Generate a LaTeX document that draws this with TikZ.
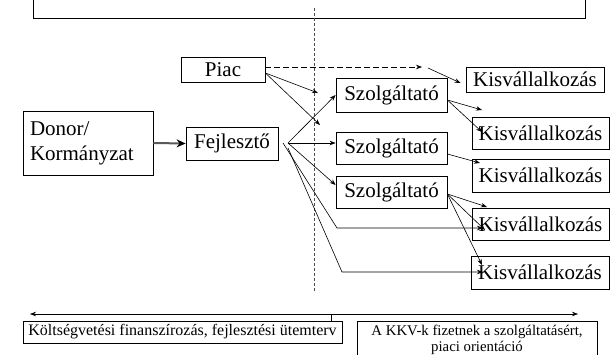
\documentclass[tikz,border=0pt]{standalone}
\usepackage{fontspec}
\setmainfont{Liberation Serif}
\usetikzlibrary{arrows.meta}

\begin{document}
\begin{tikzpicture}[x=1pt, y=-1pt,
    box/.style={draw, line width=0.8pt, inner sep=0pt, font=\fontsize{21}{25}\selectfont},
    arr/.style={-{Stealth[length=6pt,width=4.5pt]}, line width=0.6pt}]
\useasboundingbox (0,0) rectangle (612,354);
\node[box, minimum width=552pt, minimum height=30pt] (top) at (309,3) {};
\draw[dash pattern=on 3pt off 2pt, black!70, line width=0.7pt] (314,8) coordinate (v1) -- (314,292) coordinate (v2);

\node[box, minimum width=84pt, minimum height=25pt] (piac) at (223,69.5) {Piac};
\node[box, minimum width=130pt, minimum height=64pt, text width=116pt, align=left] (donor) at (88,143) {Donor/\\Kormányzat};
\node[box, minimum width=92pt, minimum height=33pt] (fejleszto) at (232,143.5) {Fejlesztő};
\node[box, minimum width=111pt, minimum height=34pt] (szolg1) at (391.5,95) {Szolgáltató};
\node[box, minimum width=111pt, minimum height=32pt] (szolg2) at (391.5,148) {Szolgáltató};
\node[box, minimum width=111pt, minimum height=32pt] (szolg3) at (391.5,192) {Szolgáltató};
\node[box, minimum width=138pt, minimum height=25pt] (kisv1) at (535,79.5) {Kisvállalkozás};
\node[box, minimum width=137pt, minimum height=32pt] (kisv2) at (540.5,133) {Kisvállalkozás};
\node[box, minimum width=137pt, minimum height=33pt] (kisv3) at (540.5,175.5) {Kisvállalkozás};
\node[box, minimum width=137pt, minimum height=32pt] (kisv4) at (540.5,224) {Kisvállalkozás};
\node[box, minimum width=138pt, minimum height=33pt] (kisv5) at (540,272.5) {Kisvállalkozás};
\node[box, minimum width=319pt, minimum height=22pt, font=\fontsize{16}{19}\selectfont] (budget) at (182.5,332) {Költségvetési finanszírozás, fejlesztési ütemterv};
\node[box, minimum width=240pt, minimum height=41pt, align=center, font=\fontsize{14.8}{16}\selectfont] (market) at (477,341.5) {};
\node[font=\fontsize{14.8}{16}\selectfont, align=center, inner sep=0pt] (markettext) at (477,339.5) {A KKV-k fizetnek a szolgáltatásért,\\piaci orientáció};

% piac
\coordinate (d1) at (422,67);
\coordinate (k0) at (428,68);
\coordinate (p1) at (318,93);
\coordinate (p2) at (320,125);
\draw[arr, dash pattern=on 6pt off 3pt] ([yshift=2.5pt]piac.east) -- (d1);
\draw[arr] (k0) -- ([xshift=-5pt,yshift=-3.5pt]kisv1.west);
\draw[arr] ([yshift=-3.5pt]piac.east) -- (p1);
\draw[arr] ([yshift=-3.5pt]piac.east) -- (p2);

% donor -> fejleszto
\draw[line width=2pt, black!65, -{Stealth[length=9pt,width=8pt,black]}] (donor.east) -- (fejleszto.west);

% fejleszto
\coordinate (fan) at (288,143);
\coordinate (fan2) at (283,143);
\coordinate (fan3) at (288,148);
\coordinate (bend4) at (337,228);
\coordinate (bend5) at (342,272);
\coordinate (e4) at (483,228);
\coordinate (e5) at (483,272);
\draw[arr] (fan) -- (szolg1.west);
\draw[arr] (fan) -- (fan -| szolg2.west);
\draw[arr] (fan) -- ([yshift=7pt]szolg3.west);
\draw[arr] (fan2) -- (bend4) -- (e4);
\draw[arr] (fan3) -- (bend5) -- (e5);

% szolgaltatok
\coordinate (s1a) at (482,110);
\coordinate (s1b) at (482,132);
\coordinate (s2a) at (480,163);
\coordinate (s3a) at (487,207);
\coordinate (s3b) at (485,230);
\coordinate (s3c) at (482,265);
\draw[arr] ([yshift=-5pt]szolg1.east) -- (s1a);
\draw[arr] ([yshift=-5pt]szolg1.east) -- (s1b);
\draw[arr] ([yshift=-6pt]szolg2.east) -- (s2a);
\draw[arr] ([yshift=-2pt]szolg3.east) -- (s3a);
\draw[arr] ([yshift=-2pt]szolg3.east) -- (s3b);
\draw[arr] ([yshift=-2pt]szolg3.east) -- (s3c);

% idovonal
\coordinate (la) at (30,314);
\coordinate (ra) at (578,314);
\coordinate (tick) at (331,314);
\draw[{Stealth[length=6pt,width=4.5pt]}-{Stealth[length=6pt,width=4.5pt]}, line width=0.6pt] (la) -- (ra);
\draw[line width=0.6pt] (tick) -- (tick |- budget.north);
\end{tikzpicture}
\end{document}
